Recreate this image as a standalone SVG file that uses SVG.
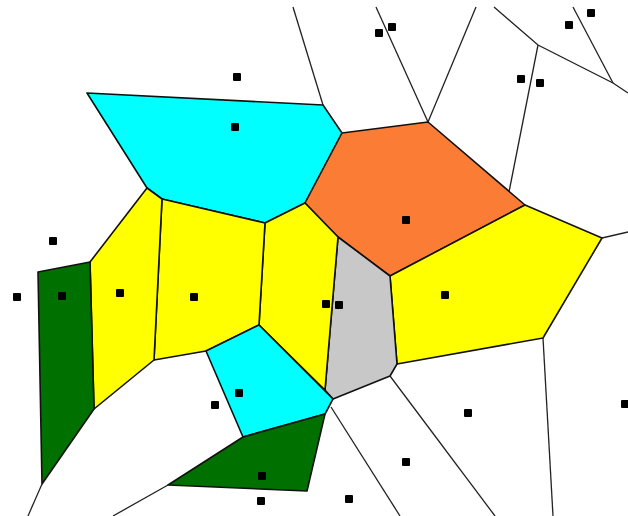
<svg xmlns="http://www.w3.org/2000/svg" width="628" height="516" viewBox="0 0 628 516">
<style>
.cell{stroke:#111;stroke-width:1.6;stroke-linejoin:round}
.cyan{fill:#00FFFF}
.orange{fill:#FB7D35}
.yellow{fill:#FFFF00}
.green{fill:#007000}
.gray{fill:#C8C8C8}
.edge{stroke:#222;stroke-width:1.3;fill:none}
.site{fill:#000}
</style>
<rect width="628" height="516" fill="#fff"/>
<g id="edges">
<polyline class="edge" points="293,7 323,105"/>
<polyline class="edge" points="376,7 428,122"/>
<polyline class="edge" points="476,7 428,122"/>
<polyline class="edge" points="494,7 538,45 613,83 628,93"/>
<polyline class="edge" points="538,45 509,192"/>
<polyline class="edge" points="573,7 613,83"/>
<polyline class="edge" points="602,238 628,232"/>
<polyline class="edge" points="543,338 553,516"/>
<polyline class="edge" points="390,376 495,516"/>
<polyline class="edge" points="331,407 400,516"/>
<polyline class="edge" points="42,484 28,516"/>
<polyline class="edge" points="168,485 113,516"/>
</g>
<g id="cells">
<polygon id="cyan-top" class="cell cyan" points="87,93 323,105 342,133 305,203 265,223 162,199 147,188"/>
<polygon id="orange" class="cell orange" points="342,133 428,122 525,205 390,276 338,237 305,203"/>
<polygon id="yellow-right" class="cell yellow" points="390,276 525,205 602,238 543,338 397,364"/>
<polygon id="gray" class="cell gray" points="338,237 390,276 397,364 390,376 333,399 325,390"/>
<polygon id="yellow-center" class="cell yellow" points="265,223 305,203 338,237 325,390 259,325"/>
<polygon id="yellow-middle" class="cell yellow" points="162,199 265,223 259,325 206,351 154,360"/>
<polygon id="yellow-left" class="cell yellow" points="147,188 162,199 154,360 94,409 90,262"/>
<polygon id="green-left" class="cell green" points="38,272 90,262 94,409 42,484"/>
<polygon id="cyan-bottom" class="cell cyan" points="206,351 259,325 333,399 325,414 243,437"/>
<polygon id="green-bottom" class="cell green" points="243,437 325,414 307,491 168,485"/>
</g>
<g id="sites">
<rect class="site" x="233" y="73" width="8" height="8" rx="1"/>
<rect class="site" x="231" y="123" width="8" height="8" rx="1"/>
<rect class="site" x="49" y="237" width="8" height="8" rx="1"/>
<rect class="site" x="375" y="29" width="8" height="8" rx="1"/>
<rect class="site" x="388" y="23" width="8" height="8" rx="1"/>
<rect class="site" x="565" y="21" width="8" height="8" rx="1"/>
<rect class="site" x="587" y="9" width="8" height="8" rx="1"/>
<rect class="site" x="517" y="75" width="8" height="8" rx="1"/>
<rect class="site" x="536" y="79" width="8" height="8" rx="1"/>
<rect class="site" x="402" y="216" width="8" height="8" rx="1"/>
<rect class="site" x="13" y="293" width="8" height="8" rx="1"/>
<rect class="site" x="58" y="292" width="8" height="8" rx="1"/>
<rect class="site" x="116" y="289" width="8" height="8" rx="1"/>
<rect class="site" x="190" y="293" width="8" height="8" rx="1"/>
<rect class="site" x="322" y="300" width="8" height="8" rx="1"/>
<rect class="site" x="335" y="301" width="8" height="8" rx="1"/>
<rect class="site" x="441" y="291" width="8" height="8" rx="1"/>
<rect class="site" x="235" y="389" width="8" height="8" rx="1"/>
<rect class="site" x="211" y="401" width="8" height="8" rx="1"/>
<rect class="site" x="464" y="409" width="8" height="8" rx="1"/>
<rect class="site" x="402" y="458" width="8" height="8" rx="1"/>
<rect class="site" x="258" y="472" width="8" height="8" rx="1"/>
<rect class="site" x="257" y="497" width="8" height="8" rx="1"/>
<rect class="site" x="345" y="495" width="8" height="8" rx="1"/>
<rect class="site" x="621" y="400" width="8" height="8" rx="1"/>
</g>
</svg>
